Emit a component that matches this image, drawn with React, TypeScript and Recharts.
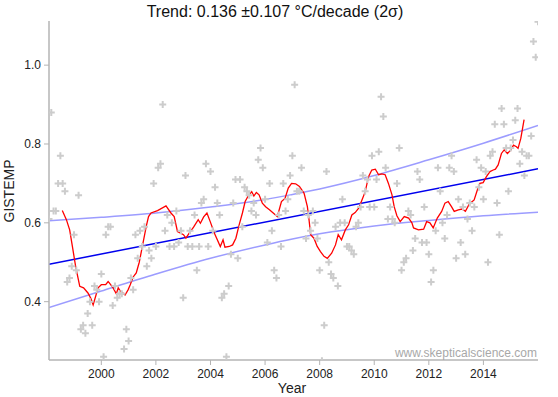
import React from 'react';
import { ComposedChart, Line, Scatter, XAxis, YAxis } from 'recharts';

const START_YEAR = 1998;

// GISTEMP monthly anomalies (°C), Jan..Dec, one row per year from 1998
const monthly = [
  [0.61, 0.88, 0.63, 0.63, 0.70, 0.77, 0.70, 0.68, 0.45, 0.46, 0.49, 0.57], // 1998
  [0.48, 0.67, 0.33, 0.34, 0.32, 0.37, 0.40, 0.34, 0.44, 0.43, 0.40, 0.47], // 1999
  [0.26, 0.57, 0.59, 0.59, 0.39, 0.44, 0.41, 0.42, 0.42, 0.28, 0.33, 0.30], // 2000
  [0.46, 0.43, 0.57, 0.51, 0.58, 0.54, 0.59, 0.49, 0.53, 0.51, 0.70, 0.54], // 2001
  [0.74, 0.75, 0.90, 0.58, 0.62, 0.54, 0.60, 0.54, 0.63, 0.55, 0.58, 0.41], // 2002
  [0.72, 0.54, 0.58, 0.54, 0.62, 0.48, 0.54, 0.65, 0.66, 0.75, 0.54, 0.73], // 2003
  [0.58, 0.69, 0.65, 0.62, 0.41, 0.42, 0.26, 0.44, 0.52, 0.65, 0.71, 0.51], // 2004
  [0.71, 0.59, 0.69, 0.68, 0.67, 0.63, 0.65, 0.62, 0.76, 0.79, 0.74, 0.66], // 2005
  [0.55, 0.70, 0.58, 0.48, 0.46, 0.62, 0.54, 0.70, 0.63, 0.66, 0.72, 0.77], // 2006
  [0.95, 0.68, 0.68, 0.74, 0.63, 0.56, 0.62, 0.58, 0.63, 0.60, 0.56, 0.48], // 2007
  [0.25, 0.34, 0.73, 0.50, 0.47, 0.46, 0.59, 0.44, 0.60, 0.66, 0.60, 0.54], // 2008
  [0.54, 0.53, 0.52, 0.59, 0.60, 0.64, 0.72, 0.68, 0.71, 0.64, 0.77, 0.64], // 2009
  [0.71, 0.78, 0.92, 0.87, 0.74, 0.61, 0.64, 0.61, 0.60, 0.70, 0.79, 0.48], // 2010
  [0.50, 0.51, 0.63, 0.62, 0.53, 0.56, 0.73, 0.71, 0.55, 0.64, 0.55, 0.52], // 2011
  [0.45, 0.48, 0.58, 0.74, 0.68, 0.60, 0.56, 0.62, 0.74, 0.77, 0.73, 0.51], // 2012
  [0.66, 0.55, 0.64, 0.52, 0.61, 0.65, 0.58, 0.64, 0.76, 0.69, 0.74, 0.66], // 2013
  [0.73, 0.50, 0.77, 0.78, 0.85, 0.65, 0.57, 0.89, 0.85, 0.79, 0.68, 0.79], // 2014
  [0.81, 0.86, 0.89, 0.75, 0.78, 0.72, 0.77, 0.77, 0.82, 1.06, 1.02, 1.11], // 2015
];

// 12 month running mean: [year, value]
const runningMean: [number, number][] = [
  [1998.57, 0.631], [1998.72, 0.608], [1998.84, 0.582], [1998.94, 0.540], [1999.06, 0.489],
  [1999.21, 0.439], [1999.35, 0.435], [1999.51, 0.422], [1999.61, 0.409], [1999.70, 0.392],
  [1999.79, 0.413], [1999.88, 0.435], [2000.00, 0.443], [2000.16, 0.443], [2000.25, 0.451],
  [2000.30, 0.447], [2000.43, 0.435], [2000.55, 0.420], [2000.62, 0.435], [2000.70, 0.426],
  [2000.79, 0.422], [2000.87, 0.417], [2000.98, 0.430], [2001.06, 0.443], [2001.16, 0.462],
  [2001.28, 0.473], [2001.39, 0.500], [2001.53, 0.550], [2001.65, 0.592], [2001.73, 0.616],
  [2001.82, 0.625], [2002.06, 0.631], [2002.37, 0.643], [2002.55, 0.625], [2002.67, 0.616],
  [2002.79, 0.578], [2003.01, 0.570], [2003.10, 0.561], [2003.22, 0.574], [2003.38, 0.589],
  [2003.55, 0.608], [2003.63, 0.599], [2003.75, 0.615], [2003.87, 0.625], [2003.99, 0.603],
  [2004.14, 0.574], [2004.36, 0.540], [2004.46, 0.557], [2004.53, 0.538], [2004.69, 0.540],
  [2004.81, 0.544], [2004.93, 0.561], [2005.05, 0.595], [2005.17, 0.625], [2005.27, 0.654],
  [2005.38, 0.668], [2005.51, 0.679], [2005.59, 0.668], [2005.68, 0.677], [2005.78, 0.671],
  [2005.90, 0.650], [2006.02, 0.641], [2006.16, 0.633], [2006.33, 0.623], [2006.45, 0.616],
  [2006.60, 0.654], [2006.73, 0.662], [2006.85, 0.688], [2006.97, 0.700], [2007.12, 0.699],
  [2007.26, 0.692], [2007.43, 0.675], [2007.55, 0.641], [2007.61, 0.608], [2007.67, 0.570],
  [2007.79, 0.561], [2007.91, 0.540], [2008.03, 0.527], [2008.16, 0.515], [2008.28, 0.510],
  [2008.44, 0.523], [2008.58, 0.544], [2008.68, 0.570], [2008.80, 0.557], [2008.94, 0.582],
  [2009.06, 0.595], [2009.18, 0.620], [2009.30, 0.626], [2009.43, 0.637], [2009.55, 0.658],
  [2009.67, 0.679], [2009.79, 0.717], [2009.91, 0.734], [2010.04, 0.736], [2010.16, 0.722],
  [2010.28, 0.724], [2010.40, 0.722], [2010.52, 0.700], [2010.65, 0.671], [2010.73, 0.641],
  [2010.83, 0.618], [2010.95, 0.603], [2011.10, 0.616], [2011.26, 0.612], [2011.38, 0.600],
  [2011.44, 0.587], [2011.62, 0.582], [2011.81, 0.584], [2011.92, 0.603], [2012.04, 0.600],
  [2012.16, 0.587], [2012.31, 0.612], [2012.47, 0.629], [2012.59, 0.650], [2012.71, 0.654],
  [2012.83, 0.641], [2012.93, 0.629], [2013.08, 0.633], [2013.22, 0.635], [2013.34, 0.629],
  [2013.47, 0.646], [2013.56, 0.652], [2013.66, 0.658], [2013.78, 0.684], [2013.87, 0.700],
  [2013.99, 0.702], [2014.11, 0.717], [2014.24, 0.730], [2014.36, 0.734], [2014.44, 0.736],
  [2014.54, 0.747], [2014.66, 0.776], [2014.76, 0.785], [2014.88, 0.776], [2015.01, 0.785],
  [2015.10, 0.797], [2015.21, 0.793], [2015.27, 0.789], [2015.37, 0.814], [2015.49, 0.862],
];

// linear trend
const trendYears = [1998.083, 2016];
const trendValues = [0.495, 0.737];

// 2 sigma envelope
const bandYears = [1998.083, 2000, 2002, 2004, 2006, 2007, 2008, 2010, 2012, 2014, 2016];
const bandUpper = [0.605, 0.614, 0.625, 0.640, 0.659, 0.672, 0.686, 0.720, 0.760, 0.802, 0.847];
const bandLower = [0.385, 0.427, 0.470, 0.510, 0.544, 0.559, 0.572, 0.592, 0.606, 0.618, 0.627];

const yearTicks = [2000, 2002, 2004, 2006, 2008, 2010, 2012, 2014];
const valueTicks = [0.4, 0.6, 0.8, 1.0];

const FONT = '"Liberation Sans", Arial, sans-serif';

const points = monthly.flatMap((row, yi) =>
  row.map((v, mi) => ({ x: START_YEAR + yi + (mi + 1) / 12, y: v }))
);
const meanData = runningMean.map(([x, y]) => ({ x, y }));
const trendData = trendYears.map((x, i) => ({ x, y: trendValues[i] }));
const upperData = bandYears.map((x, i) => ({ x, y: bandUpper[i] }));
const lowerData = bandYears.map((x, i) => ({ x, y: bandLower[i] }));

const Plus = (props: any) => {
  const { cx, cy } = props;
  if (cx == null || cy == null) return null;
  return (
    <path
      d={`M${cx - 3.5},${cy}H${cx + 3.5}M${cx},${cy - 3.5}V${cy + 3.5}`}
      stroke="#cccccc"
      strokeWidth={2}
      fill="none"
    />
  );
};

export default function App() {
  return (
    <div style={{ position: 'absolute', left: 0, top: 0, width: 558, height: 397, background: '#fff', fontFamily: FONT }}>
      <ComposedChart width={558} height={397} margin={{ top: 21, right: 20, left: 0, bottom: 0 }}>
        <XAxis
          dataKey="x"
          type="number"
          domain={[1998.083, 2016]}
          ticks={yearTicks}
          allowDataOverflow
          height={37}
          tickSize={5}
          tickMargin={4}
          axisLine={{ stroke: '#b4b4b4', strokeWidth: 1.5 }}
          tickLine={{ stroke: '#b4b4b4' }}
          tick={{ fontSize: 12, fill: '#222', fontFamily: FONT }}
        />
        <YAxis
          type="number"
          domain={[0.252, 1.112]}
          ticks={valueTicks}
          allowDataOverflow
          width={49}
          tickSize={5}
          tickMargin={3}
          tickFormatter={(v: number) => v.toFixed(1)}
          axisLine={{ stroke: '#b4b4b4', strokeWidth: 1.5 }}
          tickLine={{ stroke: '#b4b4b4' }}
          tick={{ fontSize: 12, fill: '#222', fontFamily: FONT }}
        />
        <Scatter data={points} dataKey="y" shape={Plus} isAnimationActive={false} />
        <Line data={upperData} dataKey="y" type="monotone" stroke="#9c9cff" strokeWidth={1.5} dot={false} activeDot={false} isAnimationActive={false} />
        <Line data={lowerData} dataKey="y" type="monotone" stroke="#9c9cff" strokeWidth={1.5} dot={false} activeDot={false} isAnimationActive={false} />
        <Line data={trendData} dataKey="y" type="linear" stroke="#0000ee" strokeWidth={1.5} dot={false} activeDot={false} isAnimationActive={false} />
        <Line data={meanData} dataKey="y" type="linear" stroke="#ff0000" strokeWidth={1.3} dot={false} activeDot={false} isAnimationActive={false} />
      </ComposedChart>

      <div style={{ position: 'absolute', left: 0, width: 550, top: 3, textAlign: 'center', fontSize: 16, color: '#111' }}>
        Trend: 0.136 ±0.107 °C/decade (2σ)
      </div>
      <div
        style={{
          position: 'absolute', left: 9, top: 191, fontSize: 14, color: '#222',
          transform: 'translate(-50%, -50%) rotate(-90deg)', whiteSpace: 'nowrap',
        }}
      >
        GISTEMP
      </div>
      <div style={{ position: 'absolute', left: 0, width: 584, top: 380, textAlign: 'center', fontSize: 14, color: '#222' }}>
        Year
      </div>
      <div style={{ position: 'absolute', right: 21, top: 346, fontSize: 12, color: '#a8a8a8' }}>
        www.skepticalscience.com
      </div>
    </div>
  );
}
